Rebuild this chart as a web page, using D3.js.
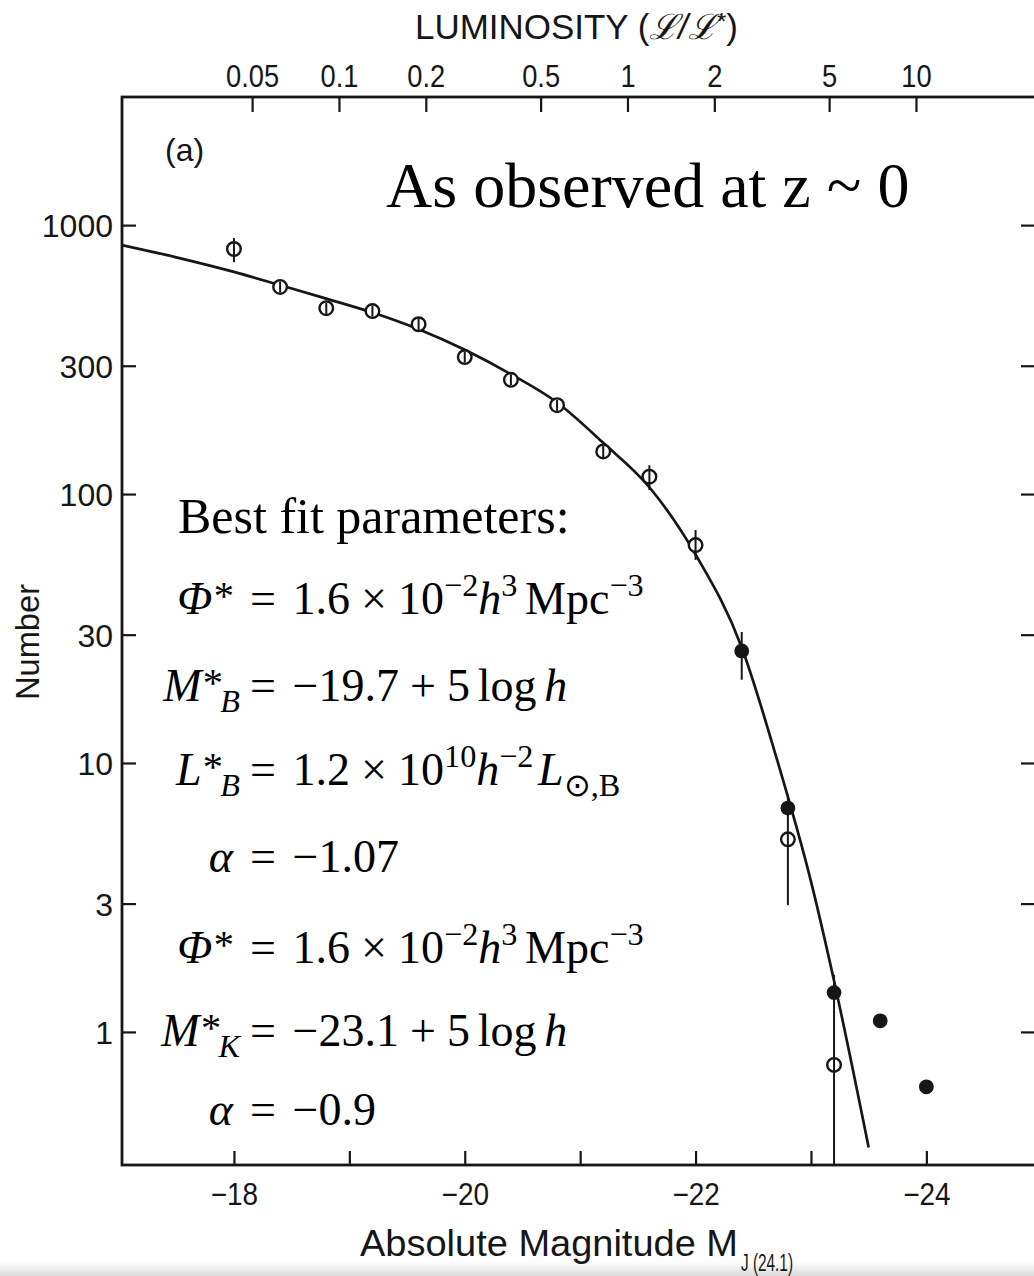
<!DOCTYPE html>
<html><head><meta charset="utf-8">
<script src="https://cdn.jsdelivr.net/npm/d3@7"></script>
<style>body{margin:0;background:#fff} svg{display:block}</style>
</head><body>
<script>
// ---- data ----
const openMag = [-18.0,-18.4,-18.8,-19.2,-19.6,-20.0,-20.4,-20.8,-21.2,-21.6,-22.0,-22.8,-23.2];
const openN   = [815,589,491,479,428,323,266,214,144,116,64.6,5.2,0.754];
const filledMag = [-22.4,-22.8,-23.2,-23.6,-24.0];
const filledN   = [26.1,6.8,1.40,1.10,0.625];
const errMag = [-18.0,-18.4,-18.8,-19.2,-19.6,-20.0,-20.4,-20.8,-21.2,-21.6,-22.0,-22.4,-22.8,-23.2];
const errLo  = [728,562,468,457,408,308,254,204,137,103.5,56.9,20.4,2.96,0.32];
const errHi  = [895,617,515,502,449,339,279,224,151,128,73.5,30.7,7.6,1.63];
const fitMag = [-17.03,-17.5,-18.0,-18.4,-18.8,-19.2,-19.6,-20.0,-20.4,-20.8,-21.2,-21.6,-22.0,-22.4,-22.7,-23.0,-23.2,-23.5];
const fitN   = [843,759,670,598,533,473,410,344,279,219,155,106,59.6,26.9,10.5,3.63,1.55,0.372];
const magTicks = [-18,-19,-20,-21,-22,-23,-24];
const numTicks = [1,3,10,30,100,300,1000];
const lumTicks = [0.05,0.1,0.2,0.5,1,2,5,10];
const lumStarMag = -21.41;
const magDomain = [-17.03,-24.95];
const numDomain = [0.32,2995];

const W = 1034, H = 1276;
const L = 122, R = 1036, T = 97, B = 1165;
const ink = "#161616";

const svg = d3.select("body").append("svg").attr("width", W).attr("height", H)
  .style("font-family", "'Liberation Sans', Arial, sans-serif");

// bottom shadow band like the scan
const grad = svg.append("defs").append("linearGradient").attr("id","shade").attr("x1",0).attr("x2",0).attr("y1",0).attr("y2",1);
grad.append("stop").attr("offset","0%").attr("stop-color","#ffffff");
grad.append("stop").attr("offset","100%").attr("stop-color","#d9d9d9");
svg.append("rect").attr("x",0).attr("y",1262).attr("width",W).attr("height",14).attr("fill","url(#shade)");

const x = d3.scaleLinear().domain(magDomain).range([L, R]);
const y = d3.scaleLog().domain(numDomain).range([B, T]);
const lumOf = m => Math.pow(10, -0.4 * (m - lumStarMag));
const xL = d3.scaleLog().domain(magDomain.map(lumOf)).range([L, R]);

// frame
svg.append("rect").attr("x", L).attr("y", T).attr("width", R - L).attr("height", B - T)
  .attr("fill", "none").attr("stroke", ink).attr("stroke-width", 2.8);

function styleAxis(g) {
  g.select(".domain").remove();
  g.selectAll(".tick line").attr("stroke", ink).attr("stroke-width", 2.2);
  g.selectAll(".tick text").attr("fill", ink);
}

// bottom axis
const fmt = d3.format("d");
const gB = svg.append("g").attr("transform", `translate(0,${B})`)
  .call(d3.axisBottom(x).tickValues(magTicks).tickSizeInner(-14).tickSizeOuter(0)
    .tickFormat(d => d % 2 === 0 ? fmt(d) : ""));
styleAxis(gB);
gB.selectAll(".tick text").attr("y", 0).attr("dy", 0)
  .attr("transform", "translate(0,40) scale(0.9,1)").attr("font-size", 31);

// top axis
const gT = svg.append("g").attr("transform", `translate(0,${T})`)
  .call(d3.axisTop(xL).tickValues(lumTicks).tickSizeInner(-15).tickSizeOuter(0)
    .tickFormat(d => String(d)));
styleAxis(gT);
gT.selectAll(".tick text").attr("y", 0).attr("dy", 0)
  .attr("transform", "translate(0,-10) scale(0.88,1)").attr("font-size", 31);

// left axis
const gLft = svg.append("g").attr("transform", `translate(${L},0)`)
  .call(d3.axisLeft(y).tickValues(numTicks).tickSizeInner(-14).tickSizeOuter(0)
    .tickFormat(d => String(d)));
styleAxis(gLft);
gLft.selectAll(".tick text").attr("x", -9).attr("dy", "0.36em").attr("font-size", 32);

// right axis
const gR = svg.append("g").attr("transform", `translate(${R},0)`)
  .call(d3.axisRight(y).tickValues(numTicks).tickSizeInner(-15).tickSizeOuter(0).tickFormat(""));
styleAxis(gR);

// fit curve
const fit = fitMag.map((m, i) => ({m, n: fitN[i]}));
svg.append("path").datum(fit)
  .attr("d", d3.line().x(d => x(d.m)).y(d => y(d.n)).curve(d3.curveMonotoneX))
  .attr("fill", "none").attr("stroke", ink).attr("stroke-width", 2.7);

// markers
svg.append("g").selectAll("circle").data(openMag.map((m, i) => ({m, n: openN[i]}))).join("circle")
  .attr("cx", d => x(d.m)).attr("cy", d => y(d.n)).attr("r", 6.8)
  .attr("fill", "#fff").attr("stroke", ink).attr("stroke-width", 2.4);
svg.append("g").selectAll("circle").data(filledMag.map((m, i) => ({m, n: filledN[i]}))).join("circle")
  .attr("cx", d => x(d.m)).attr("cy", d => y(d.n)).attr("r", 7.4).attr("fill", ink);
// error bars
svg.append("g").selectAll("line").data(errMag.map((m, i) => ({m, lo: errLo[i], hi: errHi[i]}))).join("line")
  .attr("x1", d => x(d.m)).attr("x2", d => x(d.m))
  .attr("y1", d => y(Math.max(d.lo, numDomain[0]))).attr("y2", d => y(d.hi))
  .attr("stroke", ink).attr("stroke-width", 2);

// axis titles
const tTop = svg.append("text").attr("x", 415).attr("y", 39).attr("font-size", 35).attr("fill", ink)
  .attr("textLength", 323).attr("lengthAdjust", "spacingAndGlyphs");
tTop.append("tspan").text("LUMINOSITY (");
tTop.append("tspan").style("font-style", "italic").text("ℒ/ℒ");
tTop.append("tspan").attr("font-size", 24).attr("dy", -9).text("*");
tTop.append("tspan").attr("dy", 9).text(")");

const tBot = svg.append("text").attr("x", 360).attr("y", 1256).attr("font-size", 37).attr("fill", ink);
tBot.append("tspan").attr("textLength", 378).attr("lengthAdjust", "spacingAndGlyphs").text("Absolute Magnitude M");
tBot.append("tspan").attr("x", 741).attr("y", 1271).attr("font-size", 23)
  .attr("textLength", 52).attr("lengthAdjust", "spacingAndGlyphs").text("J (24.1)");

svg.append("text").attr("transform", "translate(39,642) rotate(-90)").attr("text-anchor", "middle")
  .attr("font-size", 34).attr("fill", ink).attr("textLength", 116).attr("lengthAdjust", "spacingAndGlyphs")
  .text("Number");

svg.append("text").attr("x", 165).attr("y", 161).attr("font-size", 32).attr("fill", ink).text("(a)");

// serif annotations
const serif = "'Liberation Serif', 'Times New Roman', serif";
svg.append("text").attr("x", 386).attr("y", 207).attr("font-size", 64).attr("fill", "#000")
  .style("font-family", serif).text("As observed at z ~ 0");
svg.append("text").attr("x", 178).attr("y", 533).attr("font-size", 50).attr("fill", "#000")
  .style("font-family", serif).text("Best fit parameters:");

const S = 46;
// one <text> per formula; tspans placed at measured absolute x positions
function renderSegs(txt, segs, base) {
  let xc = 0;
  const spans = [];
  segs.forEach(s => {
    xc += (s.gap || 0) * S;
    const sz = (s.size || 1) * S;
    const sh = (s.shift || 0) * S;
    const t = txt.append("tspan").attr("x", xc).attr("y", base + sh).attr("font-size", sz)
      .style("font-style", s.it ? "italic" : "normal").text(s.t);
    spans.push({t, x0: xc});
    xc += t.node().getComputedTextLength();
  });
  return {w: xc, spans};
}
function mathLine(base, lhs, rhs, lhsEnd) {
  const txt = svg.append("text").style("font-family", serif).attr("fill", "#000");
  const left = renderSegs(txt, lhs, base);
  left.spans.forEach(s => s.t.attr("x", s.x0 + lhsEnd - left.w));
  const right = renderSegs(txt, rhs, base);
  right.spans.forEach(s => s.t.attr("x", s.x0 + 250));
}
const star = {t: "*", size: 0.88, shift: -0.1, gap: 0.03};
const subB = t => ({t, it: true, size: 0.7, shift: 0.24, gap: -0.06});
const sup = t => ({t, size: 0.7, shift: -0.4});
const phiRHS = [{t: "="}, {t: "1.6", gap: 0.36}, {t: "×", gap: 0.24}, {t: "10", gap: 0.24}, sup("−2"),
  {t: "h", it: true}, sup("3"), {t: "Mpc", gap: 0.167}, sup("−3")];
mathLine(614, [{t: "Φ", it: true}, star], phiRHS, 234);
mathLine(701, [{t: "M", it: true}, star, subB("B")],
  [{t: "="}, {t: "−19.7", gap: 0.36}, {t: "+", gap: 0.24}, {t: "5", gap: 0.24}, {t: "log", gap: 0.167}, {t: "h", it: true, gap: 0.167}], 240);
mathLine(785, [{t: "L", it: true}, star, subB("B")],
  [{t: "="}, {t: "1.2", gap: 0.36}, {t: "×", gap: 0.24}, {t: "10", gap: 0.24}, sup("10"),
   {t: "h", it: true}, sup("−2"), {t: "L", it: true, gap: 0.1}, {t: "⊙,B", size: 0.7, shift: 0.24}], 240);
mathLine(872, [{t: "α", it: true}], [{t: "="}, {t: "−1.07", gap: 0.36}], 233);
mathLine(963, [{t: "Φ", it: true}, star], phiRHS, 234);
mathLine(1046, [{t: "M", it: true}, star, subB("K")],
  [{t: "="}, {t: "−23.1", gap: 0.36}, {t: "+", gap: 0.24}, {t: "5", gap: 0.24}, {t: "log", gap: 0.167}, {t: "h", it: true, gap: 0.167}], 240);
mathLine(1125, [{t: "α", it: true}], [{t: "="}, {t: "−0.9", gap: 0.36}], 233);
</script>
</body></html>
